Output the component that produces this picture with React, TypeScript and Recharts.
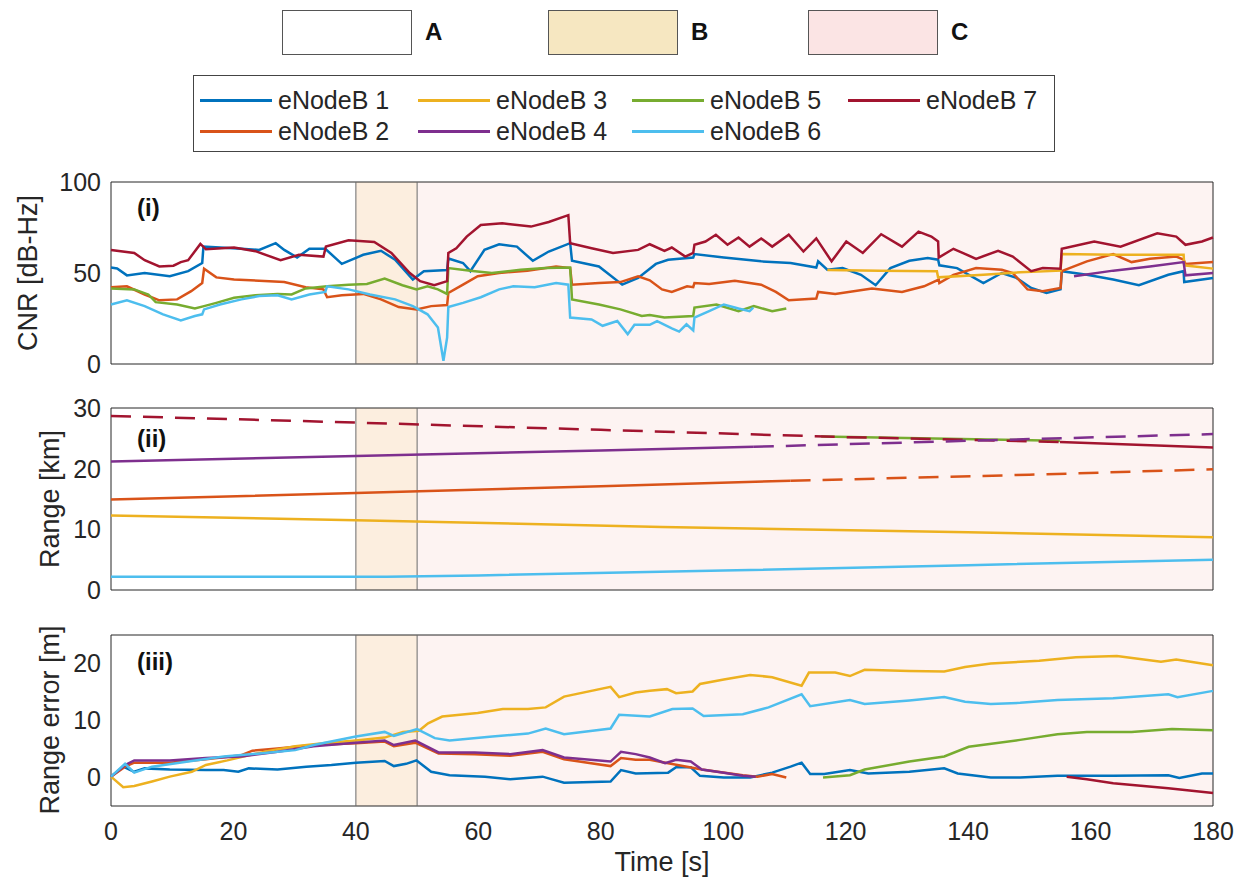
import React from 'react';
import { LineChart, Line, XAxis, YAxis, ReferenceArea, ReferenceLine } from 'recharts';

// colours used by the seven eNodeBs (MATLAB default order)
const names = ['eNodeB 1', 'eNodeB 2', 'eNodeB 3', 'eNodeB 4', 'eNodeB 5', 'eNodeB 6', 'eNodeB 7'];
const colors = ['#0072BD', '#D95319', '#EDB120', '#7E2F8E', '#77AC30', '#4DBEEE', '#A2142F'];
const timeTicks = [0, 20, 40, 60, 80, 100, 120, 140, 160, 180];

// (i) CNR [dB-Hz], pairs of [time s, value]
const cnr1 = [[0,53],[1,52.5],[2.6,48.7],[5.5,50],[9.6,48.2],[12.6,51],[14.9,55.5],[15.1,64.5],[17.8,64],[21.3,63.3],[24.2,62.7],[26.9,66.4],[28.3,62.7],[30.4,58.5],[32.4,63.3],[35,63.3],[37.7,55],[41.2,60],[44.1,62.2],[46.4,57.3],[49.3,46.4],[51.1,51],[54.9,51.6],[55.1,58],[57.5,55.5],[58.7,51],[61,62.7],[63.4,65.8],[66.3,64.5],[68.9,56.7],[71.5,61.8],[75,66.4],[75.3,56.7],[79.7,53.6],[83.5,43.6],[86.1,47.3],[89,55],[91,57.3],[95.1,58.5],[95.3,60.4],[100.1,58.5],[106.2,56.4],[111,55.5],[115.2,53],[115.5,56.4],[117,51.8],[119.5,52.7],[122.5,49],[124.9,43.3],[127.3,52.7],[130.4,56.7],[133.4,58.2],[135.1,57.3],[135.3,54.2],[138.2,52.7],[142.5,44.5],[145.5,50],[147.9,47.3],[150.3,41.8],[152.8,39],[155.1,41],[155.3,51],[159.4,49],[163.7,46.4],[167.9,43.3],[172.7,49],[175.2,51],[175.3,45],[180,47.3]];
const cnr2 = [[0,42.2],[2.6,42.7],[5.5,38.2],[7.9,35],[10.8,35.5],[13.1,40],[14.9,44.5],[15.2,52.4],[17.2,47.6],[20.1,46.4],[24.2,45.8],[28.3,45.1],[31.8,42.2],[34.7,41],[35.3,36.7],[37.7,37.8],[41.2,38.5],[44.1,35.5],[47,31.3],[49.9,30],[52.3,31.8],[54.9,32.4],[55.1,39],[57.5,43.6],[59.9,48.2],[63.4,50],[68,51.3],[72.7,53.6],[75,52.7],[75.3,43.6],[79.7,44.5],[83.2,45],[86.1,48.2],[88,46],[90,41],[91.6,39.6],[94.1,42.7],[95.1,42.2],[95.3,44.5],[97.7,44],[101.9,45.8],[106.2,43.6],[108.6,39.6],[110.7,35],[115.2,36],[115.5,39.6],[118.3,38.5],[124.3,41.5],[129.2,39.6],[132.8,42.7],[135.2,46.4],[135.3,44.5],[137.6,49],[141.3,52.7],[145.5,51.8],[147.3,50],[149.7,41],[152.2,40],[155.1,41.8],[155.3,51],[159.4,56.4],[163.7,60.4],[166.7,56],[169.7,57.8],[174,59],[175.2,57.3],[175.5,55],[180,56]];
const cnr3 = [[117,51.6],[125.5,51.3],[134.9,51],[135.1,47.6],[142.5,49],[148.5,50.4],[155.1,51.3],[155.3,60.4],[163.7,60],[175.2,60],[175.3,54.2],[180,52.4]];
const cnr4 = [[157.3,48.2],[163.7,51.3],[169.7,53.6],[175.2,56],[175.5,48.7],[180,50]];
const cnr5 = [[0,41.5],[3.8,41],[6.1,38.2],[7.3,34],[10.8,32.7],[13.7,30.5],[15.2,31.8],[17.2,33.6],[20.1,36.4],[23.6,37.8],[27.2,38.5],[29.5,38.2],[31.8,41.5],[35.3,42.7],[38.8,43.6],[41.8,44],[44.7,46.9],[47.6,43.3],[49.9,41],[51.7,42.7],[53.4,41],[54.9,38.5],[55.1,52.7],[58.7,51.3],[62.2,50],[66.9,51.8],[70.9,52.7],[75,53],[75.3,35.5],[79.7,32.7],[83.2,30],[86.7,26.4],[88,26.9],[90.4,25.5],[95.1,26.4],[95.3,31],[98.9,32.7],[102.5,29],[105,31.8],[108,29],[110.3,30.5]];
const cnr6 = [[0,32.7],[2.6,35],[5.5,31.8],[8.5,27.3],[11.4,24],[13.7,26.4],[14.9,27.3],[15.2,30],[17.8,32.7],[21.3,35.5],[24.2,37.3],[27.2,37.8],[29.5,35.5],[32.4,38.2],[35,39.6],[35.3,42.7],[38.8,41],[42.3,38.2],[46.4,35.5],[49.3,31.8],[51.7,27.3],[53.4,20],[54.3,1.8],[54.9,14.5],[55.1,31.3],[57.5,33.6],[60.4,36.7],[63.4,41],[65.7,42.7],[69.2,42.2],[72.7,44.5],[74.7,43.6],[75,25.5],[78.5,24.5],[80.3,21],[82.7,23.6],[84.4,16.4],[85.5,21.5],[88,21.5],[89.2,23.6],[91.6,19.6],[92.8,17.8],[94,21.8],[95.1,18.5],[95.3,25.5],[97.7,29],[100.1,32.7],[102.5,30.5],[104.3,29],[104.9,31]];
const cnr7 = [[0,62.7],[3.8,61],[5.5,57],[7.9,53.6],[10.2,54],[11.4,56],[12.6,57],[14.6,66],[15.5,63],[20.1,64],[23.6,62],[27.7,57],[30.7,60],[34.7,59],[35.1,64.5],[38.8,68],[43,67],[45.8,61],[48.8,50],[50.5,45.5],[52.8,43.3],[54.9,45.5],[55.1,61],[56.4,63.6],[58.1,70],[60.4,76.4],[63.9,77.3],[68.6,75.5],[71.5,78],[74.7,81.8],[75,66.4],[78.5,63.6],[82,61],[86.1,62.7],[88,65.8],[90.4,62.2],[91.6,64],[93.8,59],[95.1,61],[95.3,65.5],[97.1,67.3],[98.8,71],[100.7,65.5],[102.5,69.5],[104.3,64.5],[106.2,69],[108,64.5],[110.7,71],[113.1,61.8],[115.2,69],[117.7,56.4],[120.1,67.3],[122.8,61],[125.8,71.3],[129.2,64.5],[131.9,72.7],[134,70],[135.1,67.3],[135.2,58.5],[137.6,63.3],[141.3,57.8],[144.9,62.2],[147.3,59],[150.3,51],[152.2,52.7],[155.1,52.4],[155.3,63.3],[160.6,67.3],[164.9,64.5],[170.9,71.8],[174,70],[175.5,65.5],[178.2,67.3],[180,69.5]];

// (ii) Range [km]; solid = measured, dashed = predicted
const range2Solid = [[0,14.9],[40,16.0],[80,17.1],[111,18.0]];
const range2Dash = [[111,18.0],[150,19.0],[180,19.9]];
const range3 = [[0,12.3],[40,11.5],[90,10.4],[140,9.5],[180,8.7]];
const range4Solid = [[0,21.2],[40,22.1],[80,23.0],[105,23.6]];
const range4Dash = [[105,23.6],[140,24.6],[180,25.7]];
const range5 = [[116,25.3],[155,24.6]];
const range6 = [[0,2.2],[45,2.2],[60,2.4],[100,3.2],[140,4.1],[180,5.0]];
const range7Dash = [[0,28.7],[40,27.6],[80,26.4],[120,25.2],[155,24.4]];
const range7Solid = [[155,24.4],[180,23.5]];

// (iii) Range error [m]
const err1 = [[0,0.15],[2,1.9],[3.8,1.0],[5.5,1.6],[9.6,1.4],[15.5,1.3],[18.4,1.3],[20.8,1.0],[22.5,1.6],[27.2,1.4],[31.9,1.9],[36,2.2],[40,2.6],[44.7,2.9],[46.2,2.0],[48.2,2.4],[49.9,3.0],[52.3,1.0],[55.3,0.4],[61.1,0.15],[65.2,-0.3],[70.5,0.15],[74,-0.9],[81.6,-0.7],[83.3,1.3],[85.7,0.7],[91,0.85],[92.3,1.8],[94.7,1.8],[96.2,0.3],[100.1,0],[104.4,0],[108,0.85],[111,1.9],[112.8,2.6],[114.2,0.6],[116.5,0.6],[120.7,1.3],[123.7,0.7],[130.4,1.0],[136.1,1.6],[138.3,0.7],[143.7,0],[148.5,0],[154.6,0.3],[163.7,0.3],[172.7,0.4],[174.5,-0.1],[178.2,0.7],[180,0.7]];
const err2 = [[0,0.15],[2.3,1.9],[3.8,2.6],[9.6,2.6],[15.5,3.2],[21.3,3.9],[23.1,4.7],[27.2,5.1],[33.1,5.7],[40,6.0],[44.7,6.3],[46.2,5.5],[49.7,6.1],[53.5,4.2],[59.4,4.1],[65.2,3.8],[70.5,4.5],[74,3.2],[81.6,2.0],[83.3,3.4],[85.7,3.1],[88,3.1],[96.5,1.4],[103.2,0.4],[105.6,0.15],[108,0.6],[110.3,0]];
const err3 = [[0,0.15],[2,-1.7],[3.8,-1.5],[6.7,-0.7],[9.6,0.15],[13.2,1.0],[15.5,2.2],[19,3.0],[22.5,3.9],[26,4.7],[30.1,5.5],[35.4,6.1],[40,6.5],[44.7,7.0],[47.7,8.0],[50.3,8.2],[51.8,9.5],[54.1,10.7],[59.9,11.3],[64,12.0],[68.1,12.0],[71,12.3],[74,14.2],[81.6,15.9],[83,14.1],[85.7,14.9],[88,15.2],[90.8,15.5],[92.3,14.8],[95,15.1],[96.2,16.4],[100.1,17.2],[104.4,18.0],[108,17.6],[112.8,16.1],[114,18.4],[118.3,18.4],[120.7,17.8],[123.1,18.9],[130.4,18.7],[136.1,18.6],[139.5,19.4],[143.7,20.0],[151.6,20.5],[157.6,21.1],[164.3,21.3],[171.5,20.3],[174,20.7],[180,19.7]];
const err4 = [[0,0.15],[2.3,2.2],[3.8,3.0],[9.6,3.0],[15.5,3.4],[21.3,3.7],[27.2,4.5],[33.1,5.5],[40,6.1],[44.7,6.5],[46.2,5.7],[49.7,6.5],[50.6,6.0],[53.5,4.4],[59.4,4.4],[65.2,4.1],[70.5,4.8],[74,3.5],[81.6,2.8],[83.3,4.5],[85.7,4.1],[88,3.5],[90.5,2.5],[92.3,3.1],[94.7,2.8],[96.5,1.4],[100.1,0.85],[103.2,0.3],[105.3,0.15]];
const err5 = [[116.3,0],[120.7,0.4],[123.1,1.4],[130.4,2.8],[136.1,3.7],[140.1,5.4],[148.5,6.6],[154.6,7.6],[159.4,8.0],[166.7,8.0],[173.3,8.5],[180,8.3]];
const err6 = [[0,0.15],[2.3,2.4],[3.8,0.85],[6.7,1.9],[12.6,2.8],[18.4,3.7],[24.3,4.2],[30.1,4.8],[33.1,5.7],[40,7.2],[44.7,8.0],[46.2,7.3],[50,8.5],[52.9,6.9],[55.3,6.5],[62.3,7.2],[68.1,7.7],[71,8.6],[74,7.6],[81.6,8.6],[83,11],[88,10.7],[91.7,12.0],[95,12.1],[96.8,10.8],[103.2,11.1],[107.4,12.3],[112.8,14.6],[114.2,12.5],[120.7,13.6],[123.1,12.9],[130.4,13.5],[136.1,14.1],[139.5,13.3],[143.7,12.9],[148.5,13.1],[154.6,13.6],[163.7,13.9],[172.7,14.6],[174.2,14.1],[180,15.2]];
const err7 = [[156.1,0.15],[159.4,-0.3],[163.7,-1.0],[172.7,-1.9],[180,-2.7]];

const pts = (a: number[][]) => a.map(([t, v]) => ({ t, v }));

const FONT = '"Liberation Sans", Arial, Helvetica, sans-serif';
const INK = '#262626';

type Series = { d: number[][]; c: string; dash?: boolean };

const panelI: Series[] = [cnr1, cnr2, cnr3, cnr4, cnr5, cnr6, cnr7].map((d, i) => ({ d, c: colors[i] }));
const panelII: Series[] = [
  { d: range6, c: colors[5] },
  { d: range3, c: colors[2] },
  { d: range2Solid, c: colors[1] },
  { d: range2Dash, c: colors[1], dash: true },
  { d: range5, c: colors[4] },
  { d: range7Dash, c: colors[6], dash: true },
  { d: range7Solid, c: colors[6] },
  { d: range4Solid, c: colors[3] },
  { d: range4Dash, c: colors[3], dash: true },
];
const panelIII: Series[] = [err1, err2, err3, err4, err5, err6, err7].map((d, i) => ({ d, c: colors[i] }));

interface PanelProps {
  top: number;
  plotH: number;
  domain: [number, number];
  ticks: number[];
  series: Series[];
  showTime?: boolean;
}

const PAD = 18; // room above/below the plot box so edge tick labels aren't clipped

const Panel: React.FC<PanelProps> = ({ top, plotH, domain, ticks, series, showTime }) => {
  const axisH = showTime ? 40 : 0;
  const bottom = showTime ? 0 : PAD;
  return (
    <div style={{ position: 'absolute', left: 0, top: top - PAD }}>
      <LineChart width={1247} height={plotH + PAD + axisH + bottom} margin={{ top: PAD, right: 34, left: 41, bottom }}>
        <XAxis
          dataKey="t"
          type="number"
          domain={[0, 180]}
          ticks={timeTicks}
          hide={!showTime}
          height={axisH}
          axisLine={false}
          tickLine={false}
          tickSize={6}
          tickMargin={10}
          tick={{ fill: INK, fontSize: 25, fontFamily: FONT }}
        />
        <YAxis
          type="number"
          domain={domain}
          ticks={ticks}
          interval={0}
          width={70}
          axisLine={false}
          tickLine={false}
          tickSize={8}
          tick={{ fill: INK, fontSize: 25, fontFamily: FONT }}
        />
        <ReferenceArea x1={40} x2={50} fill="#FCEEDF" fillOpacity={1} stroke="none" />
        <ReferenceArea x1={50} x2={180} fill="#FDF3F2" fillOpacity={1} stroke="none" />
        <ReferenceLine x={40} stroke="#6b6b6b" strokeWidth={1} />
        <ReferenceLine x={50} stroke="#6b6b6b" strokeWidth={1} />
        {series.map((s, i) => (
          <Line
            key={i}
            data={pts(s.d)}
            dataKey="v"
            type="linear"
            stroke={s.c}
            strokeWidth={2.5}
            strokeDasharray={s.dash ? '20 12' : undefined}
            dot={false}
            activeDot={false}
            isAnimationActive={false}
          />
        ))}
        <ReferenceArea x1={0} x2={180} fill="none" stroke={INK} strokeWidth={1} />
      </LineChart>
    </div>
  );
};

const yLabel = (text: string, cx: number, cy: number) => (
  <div
    style={{
      position: 'absolute', left: cx, top: cy, transform: 'translate(-50%, -50%) rotate(-90deg)',
      whiteSpace: 'nowrap', fontSize: 27, fontFamily: FONT, color: INK,
    }}
  >
    {text}
  </div>
);

const tag = (text: string, x: number, y: number) => (
  <div style={{ position: 'absolute', left: x, top: y, fontSize: 24, fontWeight: 'bold', fontFamily: FONT, color: '#111' }}>
    {text}
  </div>
);

const regionKeys = [
  { label: 'A', fill: '#ffffff', x: 282 },
  { label: 'B', fill: '#F6E7C1', x: 548 },
  { label: 'C', fill: '#FBE4E4', x: 808 },
];

const legendCols = [200, 418, 632, 848];

export default function App() {
  return (
    <div style={{ position: 'absolute', left: 0, top: 0, width: 1247, height: 890, background: '#fff', fontFamily: FONT }}>
      {regionKeys.map(r => (
        <React.Fragment key={r.label}>
          <div style={{ position: 'absolute', left: r.x, top: 10, width: 130, height: 45, background: r.fill, border: '1px solid #555', boxSizing: 'border-box' }} />
          <div style={{ position: 'absolute', left: r.x + 143, top: 18, fontSize: 24, fontWeight: 'bold', color: '#111' }}>{r.label}</div>
        </React.Fragment>
      ))}

      <div style={{ position: 'absolute', left: 193, top: 75, width: 862, height: 77, border: '1px solid #444', boxSizing: 'border-box', background: '#fff' }} />
      {names.map((n, i) => {
        const col = Math.floor(i / 2);
        const row = i % 2;
        const x = legendCols[col];
        const y = row === 0 ? 100 : 131;
        return (
          <React.Fragment key={n}>
            <div style={{ position: 'absolute', left: x, top: y - 1, width: 72, height: 2.5, background: colors[i] }} />
            <div style={{ position: 'absolute', left: x + 78, top: y - 15, fontSize: 25, lineHeight: '30px', color: INK, whiteSpace: 'nowrap' }}>{n}</div>
          </React.Fragment>
        );
      })}

      <Panel top={182} plotH={182} domain={[0, 100]} ticks={[0, 50, 100]} series={panelI} />
      <Panel top={408} plotH={182} domain={[0, 30]} ticks={[0, 10, 20, 30]} series={panelII} />
      <Panel top={635} plotH={171} domain={[-5, 25]} ticks={[0, 10, 20]} series={panelIII} showTime />

      {yLabel('CNR [dB-Hz]', 28, 273)}
      {yLabel('Range [km]', 50, 499)}
      {yLabel('Range error [m]', 50, 720)}
      <div style={{ position: 'absolute', left: 662, top: 862, transform: 'translate(-50%, -50%)', fontSize: 27, color: INK, whiteSpace: 'nowrap' }}>
        Time [s]
      </div>

      {tag('(i)', 137, 194)}
      {tag('(ii)', 137, 425)}
      {tag('(iii)', 137, 648)}
    </div>
  );
}
